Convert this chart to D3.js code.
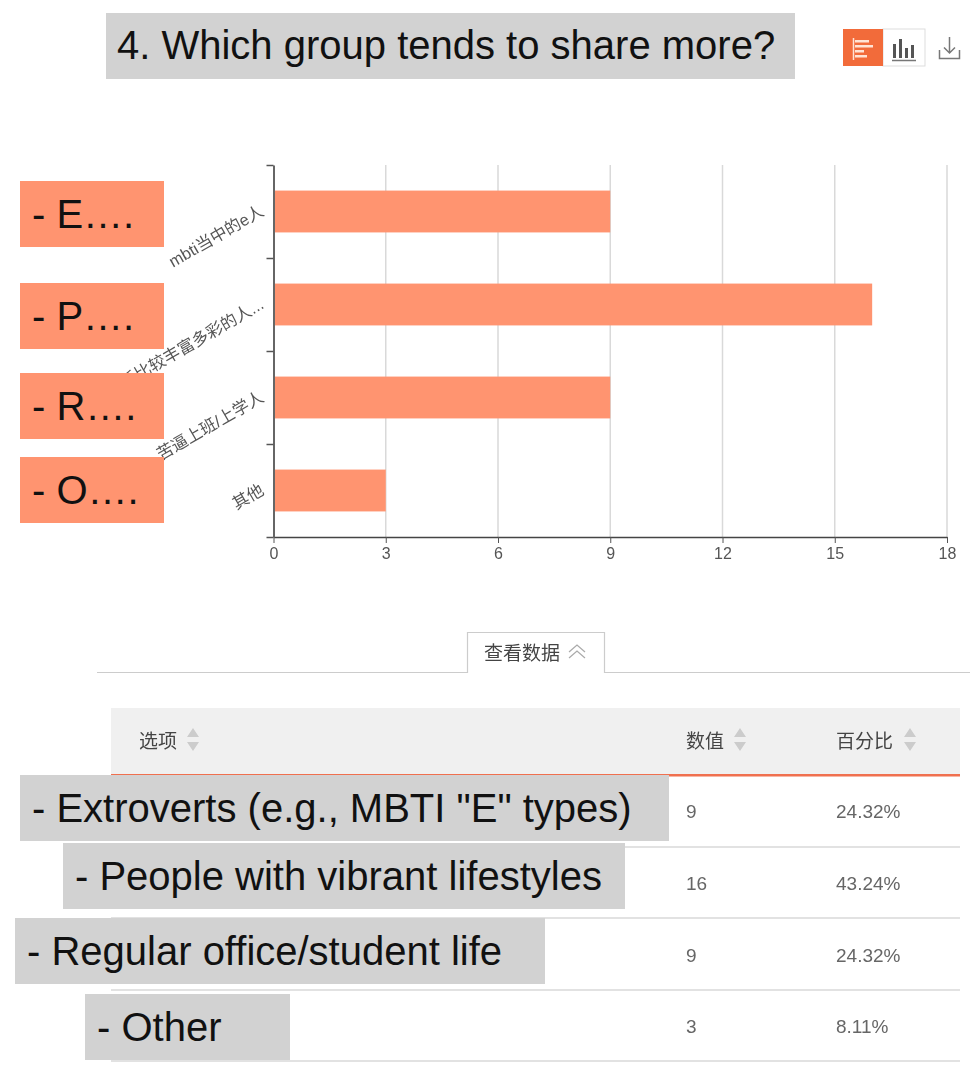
<!DOCTYPE html>
<html>
<head>
<meta charset="utf-8">
<script src="https://cdn.jsdelivr.net/npm/d3@7"></script>
<style>
  html, body { margin: 0; padding: 0; background: #fff; }
  svg { display: block; font-family: "Liberation Sans", "Noto Sans CJK SC", sans-serif; }
  .cn { fill: #555; font-size: 16.5px; }
  .cell { fill: #666; font-size: 19px; }
  .head { fill: #444; font-size: 19px; }
  .mask { fill: #111; font-size: 40px; }
  .soft { filter: blur(0.5px); }
</style>
</head>
<body>
<div id="chart"></div>
<script>
// chart values
const categories = ["mbti当中的e人", "生活比较丰富多彩的人...", "苦逼上班/上学人", "其他"];
const values = [9, 16, 9, 3];
const percents = ["24.32%", "43.24%", "24.32%", "8.11%"];
const xTicks = [0, 3, 6, 9, 12, 15, 18];
const columns = ["选项", "数值", "百分比"];
const titleText = "4. Which group tends to share more?";
const shortLabels = ["- E….", "- P….", "- R….", "- O…."];
const longLabels = ['- Extroverts (e.g., MBTI "E" types)', "- People with vibrant lifestyles", "- Regular office/student life", "- Other"];

// layout, kept apart from the values
const width = 973, height = 1067;
const plot = { left: 273.5, right: 947, top: 165, bottom: 537 };
const salmon = "#ff9470", grey = "#d2d2d2", orange = "#f26b3a";
const shortBoxes = [[20, 181, 144], [20, 283, 144], [20, 373, 144], [20, 457, 144]];
const longBoxes = [[20, 775, 649], [63, 843, 562], [15, 918, 530], [85, 994, 205]];
const rowLines = [847, 918, 990, 1061];
const rowCenters = [811, 883, 955, 1026];
const columnX = [139, 686, 836];
const arrowX = [193, 740, 910];

const svg = d3.select("#chart").append("svg")
    .attr("width", width)
    .attr("height", height)
    .attr("viewBox", `0 0 ${width} ${height}`);

const xScale = d3.scaleLinear()
    .domain([0, 18])
    .range([plot.left, plot.right]);

const yScale = d3.scaleBand()
    .domain(categories)
    .range([plot.top, plot.bottom])
    .paddingInner(0.55)
    .paddingOuter(0.275);

// y ticks sit between the categories
const yTicks = d3.scaleLinear()
    .domain([0, categories.length])
    .range([plot.top, plot.bottom]);

const chart = svg.append("g").attr("class", "soft");

// grid lines
chart.append("g")
    .selectAll("line")
    .data(xTicks.slice(1))
    .join("line")
    .attr("x1", d => xScale(d))
    .attr("x2", d => xScale(d))
    .attr("y1", plot.top)
    .attr("y2", plot.bottom)
    .attr("stroke", "#d9d9d9")
    .attr("stroke-width", 1.5);

// bars
chart.append("g")
    .selectAll("rect")
    .data(values)
    .join("rect")
    .attr("x", xScale(0))
    .attr("y", (d, i) => yScale(categories[i]))
    .attr("width", d => xScale(d) - xScale(0))
    .attr("height", yScale.bandwidth())
    .attr("fill", salmon);

// axes
const xAxis = chart.append("g")
    .attr("transform", `translate(0,${plot.bottom})`)
    .call(d3.axisBottom(xScale).tickValues(xTicks).tickSize(6).tickSizeOuter(0));
xAxis.selectAll("text").attr("fill", "#555").style("font-size", "16px").attr("dy", "0.8em");
xAxis.selectAll("line").attr("stroke", "#555");
xAxis.select(".domain").attr("stroke", "#444").attr("stroke-width", 1.5);

const yAxis = chart.append("g")
    .attr("transform", `translate(${plot.left},0)`)
    .call(d3.axisLeft(yTicks).ticks(categories.length).tickFormat("").tickSize(7).tickSizeOuter(0));
yAxis.selectAll("line").attr("stroke", "#555").attr("stroke-width", 1.5);
yAxis.select(".domain").attr("stroke", "#666").attr("stroke-width", 2);

// rotated category labels
chart.append("g")
    .selectAll("text")
    .data(categories)
    .join("text")
    .attr("class", "cn")
    .attr("text-anchor", "end")
    .attr("transform", d => `translate(265,${yScale(d) + yScale.bandwidth() / 2 + 3}) rotate(-30)`)
    .text(d => d);

// toolbar icons
const tools = svg.append("g").attr("class", "soft");
tools.append("rect").attr("x", 883).attr("y", 29).attr("width", 42).attr("height", 37)
    .attr("fill", "#fff").attr("stroke", "#ddd");
tools.append("rect").attr("x", 843).attr("y", 29).attr("width", 40).attr("height", 37).attr("fill", orange);
tools.append("path").attr("d", "M853.5 38V60").attr("stroke", "#ffe3d4").attr("stroke-width", 1.5);
tools.append("g").selectAll("rect").data([[855, 14], [855, 18], [855, 9], [855, 12]]).join("rect")
    .attr("x", d => d[0]).attr("y", (d, i) => 40 + i * 5).attr("width", d => d[1]).attr("height", 2.5).attr("fill", "#ffe3d4");
tools.append("g").selectAll("rect").data([[893, 14], [899, 19], [905, 10], [911, 13]]).join("rect")
    .attr("x", d => d[0]).attr("width", 3).attr("y", d => 58 - d[1]).attr("height", d => d[1]).attr("fill", "#555");
tools.append("path").attr("d", "M892 60.5H916").attr("stroke", "#777").attr("stroke-width", 1.5);
tools.append("path").attr("d", "M939.5 50V58.5H959.5V50M949.5 37V53M944 47.5L949.5 53L955 47.5")
    .attr("fill", "none").attr("stroke", "#777").attr("stroke-width", 1.5);

// data tab
const table = svg.append("g").attr("class", "soft");
table.append("path")
    .attr("d", "M97 672.5H467.5V632.5H604.5V672.5H970")
    .attr("fill", "none").attr("stroke", "#ccc").attr("stroke-width", 1.2);
table.append("text").attr("class", "head").attr("x", 484).attr("y", 660).text("查看数据");
table.append("path").attr("d", "M569 652L577 645L585 652M569 658L577 651L585 658")
    .attr("fill", "none").attr("stroke", "#aaa").attr("stroke-width", 1.2);

// table header
table.append("rect").attr("x", 111).attr("y", 708).attr("width", 849).attr("height", 66).attr("fill", "#f0f0f0");
table.append("rect").attr("x", 111).attr("y", 774).attr("width", 849).attr("height", 2.5).attr("fill", "#f0704f");
table.append("g").selectAll("text").data(columns).join("text")
    .attr("class", "head")
    .attr("x", (d, i) => columnX[i])
    .attr("y", 748)
    .text(d => d);
table.append("g").selectAll("path").data(arrowX).join("path")
    .attr("d", d => `M${d - 6} 737L${d} 728L${d + 6} 737ZM${d - 6} 742L${d} 751L${d + 6} 742Z`)
    .attr("fill", "#ccc");

// table rows
table.append("g").selectAll("line").data(rowLines).join("line")
    .attr("x1", 111).attr("x2", 960)
    .attr("y1", d => d).attr("y2", d => d)
    .attr("stroke", "#d8d8d8").attr("stroke-width", 1.5);
table.append("g").selectAll("text").data(values).join("text")
    .attr("class", "cell")
    .attr("x", columnX[1])
    .attr("y", (d, i) => rowCenters[i])
    .attr("dy", "0.35em")
    .text(d => d);
table.append("g").selectAll("text").data(percents).join("text")
    .attr("class", "cell")
    .attr("x", columnX[2])
    .attr("y", (d, i) => rowCenters[i])
    .attr("dy", "0.35em")
    .text(d => d);

// pasted-on boxes on top of the screenshot
svg.append("rect").attr("x", 106).attr("y", 13).attr("width", 689).attr("height", 66).attr("fill", grey);
svg.append("text").attr("class", "mask").attr("x", 117).attr("y", 59).text(titleText);

const shortGroup = svg.append("g").selectAll("g").data(shortLabels).join("g")
    .attr("transform", (d, i) => `translate(${shortBoxes[i][0]},${shortBoxes[i][1]})`);
shortGroup.append("rect").attr("width", (d, i) => shortBoxes[i][2]).attr("height", 66).attr("fill", salmon);
shortGroup.append("text").attr("class", "mask").attr("x", 12).attr("y", 47).text(d => d);

const longGroup = svg.append("g").selectAll("g").data(longLabels).join("g")
    .attr("transform", (d, i) => `translate(${longBoxes[i][0]},${longBoxes[i][1]})`);
longGroup.append("rect").attr("width", (d, i) => longBoxes[i][2]).attr("height", 66).attr("fill", grey);
longGroup.append("text").attr("class", "mask").attr("x", 12).attr("y", 47).text(d => d);
</script>
</body>
</html>
